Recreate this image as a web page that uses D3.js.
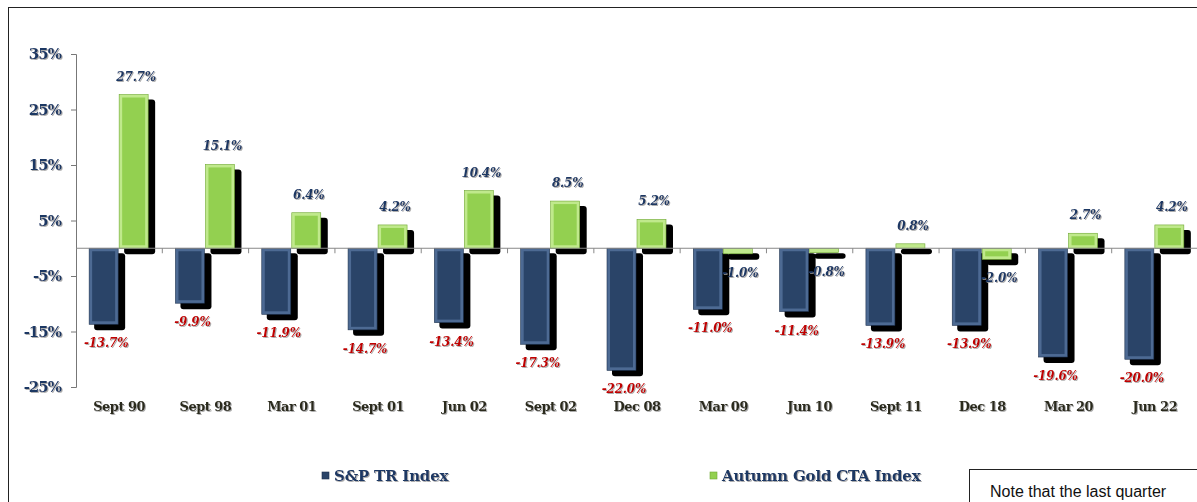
<!DOCTYPE html>
<html>
<head>
<meta charset="utf-8">
<script src="https://cdn.jsdelivr.net/npm/d3@7"></script>
<style>
  body { margin: 0; background: #fff; }
  svg { display: block; }
</style>
</head>
<body>
<div id="chart"></div>
<script>
var categories = ["Sept 90", "Sept 98", "Mar 01", "Sept 01", "Jun 02", "Sept 02", "Dec 08",
                  "Mar 09", "Jun 10", "Sept 11", "Dec 18", "Mar 20", "Jun 22"];
var spValues = [-13.7, -9.9, -11.9, -14.7, -13.4, -17.3, -22.0, -11.0, -11.4, -13.9, -13.9, -19.6, -20.0];
var goldValues = [27.7, 15.1, 6.4, 4.2, 10.4, 8.5, 5.2, -1.0, -0.8, 0.8, -2.0, 2.7, 4.2];
var yTicks = [35, 25, 15, 5, -5, -15, -25];
var seriesNames = ["S&P TR Index", "Autumn Gold CTA Index"];

var width = 1197;
var height = 502;
var serif = "'DejaVu Serif', 'Liberation Serif', serif";

var svg = d3.select("#chart")
  .append("svg")
  .attr("width", width)
  .attr("height", height);

var defs = svg.append("defs");
var f = defs.append("filter").attr("id", "tshadow")
  .attr("x", "-10%").attr("y", "-10%").attr("width", "130%").attr("height", "140%");
f.append("feDropShadow").attr("dx", 1).attr("dy", 1).attr("stdDeviation", 0.6)
  .attr("flood-color", "#999").attr("flood-opacity", 0.8);
var fb = defs.append("filter").attr("id", "bshadow")
  .attr("x", "-20%").attr("y", "-20%").attr("width", "150%").attr("height", "150%");
fb.append("feGaussianBlur").attr("stdDeviation", 0.7);

// outer frame
svg.append("rect")
  .attr("x", 8.5).attr("y", 7.5)
  .attr("width", width + 10).attr("height", height + 10)
  .attr("fill", "none").attr("stroke", "#222").attr("stroke-width", 1);

var x0 = d3.scaleBand()
  .domain(categories)
  .range([76, 1198]);

var y = d3.scaleLinear()
  .domain([-25, 35])
  .range([387, 54]);

var barW = 30;
var x1 = d3.scaleBand()
  .domain([0, 1])
  .range([x0.bandwidth() / 2 - barW, x0.bandwidth() / 2 + barW]);

var colors = [
  { base: "#2a4468", edge: "#4d6a93", dark: "#1c304d" },
  { base: "#93d050", edge: "#c0e98c", dark: "#6fa832" }
];

// y axis
var yAxis = svg.append("g")
  .attr("transform", "translate(76,0)")
  .call(d3.axisLeft(y).tickValues(yTicks).tickSize(5).tickPadding(10)
    .tickFormat(function(d) { return d + "%"; }));
yAxis.select(".domain").attr("stroke", "#777");
yAxis.selectAll(".tick line").attr("stroke", "#777");
yAxis.selectAll(".tick text")
  .attr("fill", "#1f3864")
  .style("font-family", serif)
  .style("font-weight", "bold")
  .style("font-size", "15px")
  .style("letter-spacing", "-1px")
  .attr("filter", "url(#tshadow)");

var data = categories.map(function(c, i) {
  return { cat: c, vals: [spValues[i], goldValues[i]] };
});

var groups = svg.selectAll("g.cat")
  .data(data)
  .enter()
  .append("g")
  .attr("class", "cat")
  .attr("transform", function(d) { return "translate(" + x0(d.cat) + ",0)"; });

var bars = groups.selectAll("g.bar")
  .data(function(d) { return d.vals.map(function(v, k) { return { v: v, k: k }; }); })
  .enter()
  .append("g")
  .attr("class", "bar");

function barTop(d) { return Math.min(y(d.v), y(0)); }
function barH(d) { return Math.max(Math.abs(y(d.v) - y(0)), 1.5); }

// shadow
bars.append("rect")
  .attr("x", function(d) { return x1(d.k) + 5; })
  .attr("y", function(d) { return barTop(d) + 5; })
  .attr("width", barW + 1)
  .attr("height", function(d) { return barH(d) + 1; })
  .attr("rx", 3)
  .attr("fill", "#000")
  .attr("filter", "url(#bshadow)");

// bevel edge
bars.append("rect")
  .attr("x", function(d) { return x1(d.k); })
  .attr("y", function(d) { return barTop(d); })
  .attr("width", barW - 1)
  .attr("height", function(d) { return barH(d); })
  .attr("fill", function(d) { return colors[d.k].edge; })
  .attr("stroke", function(d) { return colors[d.k].dark; })
  .attr("stroke-width", 0.6);

// face
bars.append("rect")
  .attr("x", function(d) { return x1(d.k) + 3; })
  .attr("y", function(d) { return barTop(d) + 3; })
  .attr("width", barW - 7)
  .attr("height", function(d) { return Math.max(barH(d) - 6, 0); })
  .attr("fill", function(d) { return colors[d.k].base; });

// x axis line at zero
var xAxis = svg.append("g")
  .attr("transform", "translate(0," + y(0) + ")");
xAxis.append("line")
  .attr("x1", 76).attr("x2", width)
  .attr("stroke", "#888");
xAxis.selectAll("line.tk")
  .data(categories.slice(1))
  .enter()
  .append("line")
  .attr("class", "tk")
  .attr("x1", function(d) { return x0(d); })
  .attr("x2", function(d) { return x0(d); })
  .attr("y1", 0).attr("y2", 5)
  .attr("stroke", "#888");

// category labels
svg.selectAll("text.cat")
  .data(categories)
  .enter()
  .append("text")
  .attr("class", "cat")
  .attr("x", function(d) { return x0(d) + x0.bandwidth() / 2; })
  .attr("y", 411)
  .attr("text-anchor", "middle")
  .attr("fill", "#2b2a1c")
  .attr("filter", "url(#tshadow)")
  .style("font-family", serif)
  .style("font-weight", "bold")
  .style("font-size", "13px")
  .style("letter-spacing", "-0.5px")
  .text(function(d) { return d; });

// value labels
bars.append("text")
  .attr("x", function(d) { return x1(d.k) + barW / 2 + 2; })
  .attr("y", function(d) {
    return d.v >= 0 ? y(d.v) - 14 : y(d.v) + 23;
  })
  .attr("text-anchor", "middle")
  .attr("fill", function(d) { return d.k === 0 ? "#c00000" : "#1f3864"; })
  .style("font-family", serif)
  .style("font-weight", "bold")
  .style("font-style", "italic")
  .style("font-size", "12px")
  .style("letter-spacing", "-0.2px")
  .attr("filter", "url(#tshadow)")
  .text(function(d) { return d.v.toFixed(1) + "%"; });

// legend
var legendX = [322, 710];
var legend = svg.selectAll("g.legend")
  .data(seriesNames)
  .enter()
  .append("g")
  .attr("class", "legend")
  .attr("transform", function(d, i) { return "translate(" + legendX[i] + ",476)"; });
legend.append("rect")
  .attr("x", 0).attr("y", -4)
  .attr("width", 7).attr("height", 7)
  .attr("fill", function(d, i) { return colors[i].base; })
  .attr("stroke", function(d, i) { return colors[i].dark; })
  .attr("stroke-width", 0.6);
legend.append("text")
  .attr("x", 12).attr("y", 5)
  .attr("fill", "#1f3864")
  .attr("filter", "url(#tshadow)")
  .style("font-family", serif)
  .style("font-weight", "bold")
  .style("font-size", "15px")
  .style("letter-spacing", "-0.2px")
  .text(function(d) { return d; });

// note box
svg.append("rect")
  .attr("x", 969.5).attr("y", 469.5)
  .attr("width", 240).attr("height", 50)
  .attr("fill", "#fff").attr("stroke", "#222");
svg.append("text")
  .attr("x", 990).attr("y", 497)
  .attr("fill", "#111")
  .style("font-family", "'Liberation Sans', Arial, sans-serif")
  .style("font-size", "16px")
  .text("Note that the last quarter");
</script>
</body>
</html>
